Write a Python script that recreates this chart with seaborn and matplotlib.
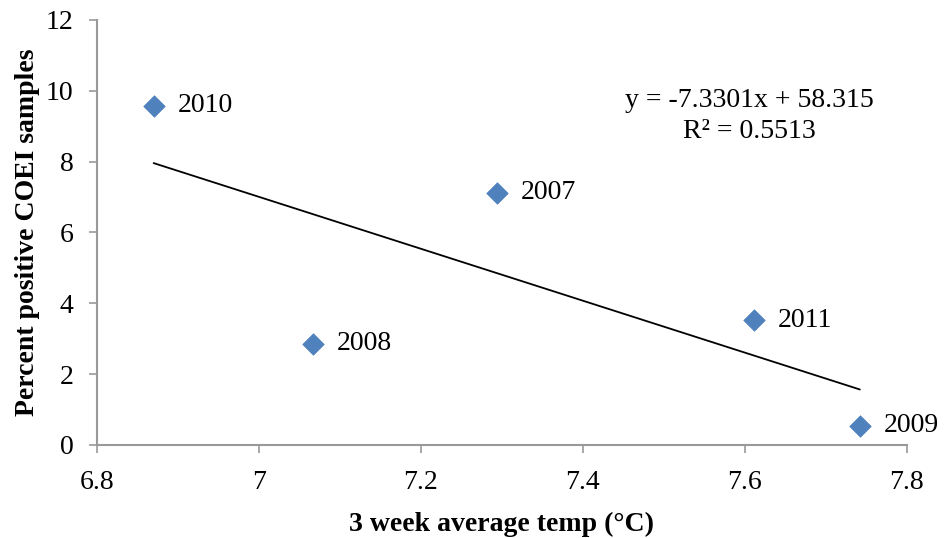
import matplotlib
matplotlib.use("Agg")
import matplotlib.pyplot as plt
import seaborn as sns
import numpy as np
import pandas as pd

years = ["2010", "2007", "2008", "2011", "2009"]
temps = [6.87, 7.294, 7.067, 7.611, 7.742]
percent = [9.57, 7.12, 2.85, 3.52, 0.54]
slope = -7.3301
intercept = 58.315
equation = "y = -7.3301x + 58.315"
r2_text = "R² = 0.5513"
x_ticks = [6.8, 7.0, 7.2, 7.4, 7.6, 7.8]
x_tick_labels = ["6.8", "7", "7.2", "7.4", "7.6", "7.8"]
y_ticks = [0, 2, 4, 6, 8, 10, 12]

sns.set_style("white")
plt.rcParams['font.family'] = ['Liberation Serif', 'DejaVu Serif']
plt.rcParams['text.color'] = 'black'
plt.rcParams['axes.labelcolor'] = 'black'
plt.rcParams['xtick.color'] = 'black'
plt.rcParams['ytick.color'] = 'black'

df = pd.DataFrame({"temp": temps, "pct": percent, "year": years})
fig = plt.figure(figsize=(9.45, 5.38), dpi=100)
ax = fig.add_axes([0.1026, 0.173, 0.857, 0.79])

sns.scatterplot(data=df, x="temp", y="pct", marker="D", s=120,
                color="#4F81BD", edgecolor="#4F81BD", linewidth=0.5, ax=ax, zorder=3)

xs = np.array([min(temps), max(temps)])
trend = pd.DataFrame({"x": xs, "y": slope * xs + intercept})
sns.lineplot(data=trend, x="x", y="y", color="black", linewidth=1.3, ax=ax)

for t, p, yr in zip(temps, percent, years):
    ax.annotate(yr, (t, p), xytext=(17, 0), textcoords="offset points",
                ha="left", va="center", fontsize=20)

ax.text(7.606, 9.72, equation, ha="center", va="center", fontsize=20)
ax.text(7.606, 8.84, r2_text, ha="center", va="center", fontsize=20)

ax.set_xlim(6.8, 7.8)
ax.set_ylim(0, 12)
ax.set_xticks(x_ticks)
ax.set_xticklabels(x_tick_labels)
ax.set_yticks(y_ticks)
ax.tick_params(axis="both", labelsize=20, direction="out", length=6,
               width=1.2, color="#999999", bottom=True, left=True,
               labelcolor="black")
ax.tick_params(axis="x", pad=12)
ax.tick_params(axis="y", pad=11)
for s in ["top", "right"]:
    ax.spines[s].set_visible(False)
for s in ["left", "bottom"]:
    ax.spines[s].set_color("#999999")
    ax.spines[s].set_linewidth(1.5)

ax.set_xlabel("3 week average temp (°C)", fontsize=20, fontweight="bold", labelpad=12)
ax.set_ylabel("Percent positive COEI samples", fontsize=20, fontweight="bold", labelpad=4)

fig.savefig("out.png", dpi=100)
